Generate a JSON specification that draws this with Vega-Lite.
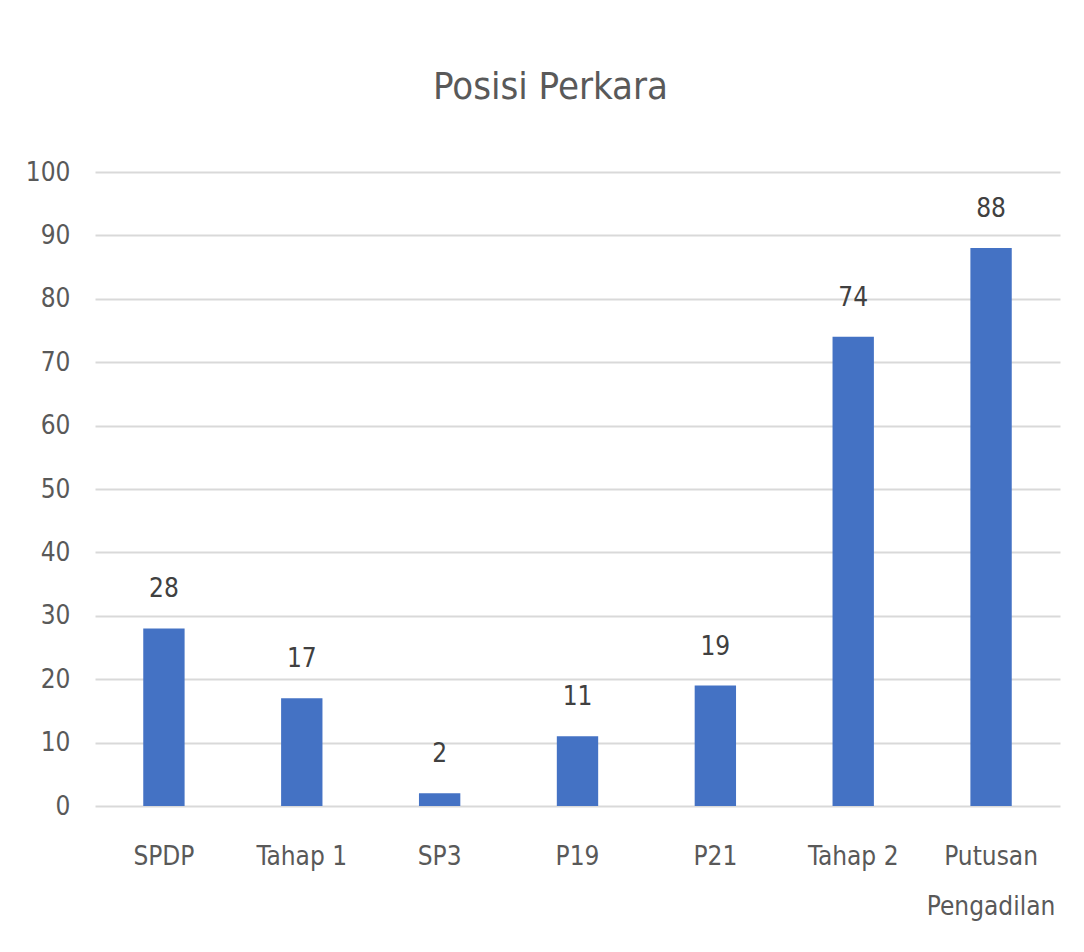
{
  "$schema": "https://vega.github.io/schema/vega-lite/v6.json",
  "autosize": "none",
  "width": 965,
  "height": 634,
  "padding": {"left": 95, "top": 172, "right": 24, "bottom": 146},
  "background": "white",
  "title": {
    "text": "Posisi Perkara",
    "anchor": "middle",
    "dx": -27,
    "offset": 22,
    "baseline": "alphabetic",
    "font": "DejaVu Sans Condensed",
    "fontSize": 38,
    "fontWeight": "normal",
    "color": "#595959"
  },
  "data": {
    "values": [
      {"kategori": "SPDP", "jumlah": 28},
      {"kategori": "Tahap 1", "jumlah": 17},
      {"kategori": "SP3", "jumlah": 2},
      {"kategori": "P19", "jumlah": 11},
      {"kategori": "P21", "jumlah": 19},
      {"kategori": "Tahap 2", "jumlah": 74},
      {"kategori": "Putusan Pengadilan", "jumlah": 88}
    ]
  },
  "encoding": {
    "x": {
      "field": "kategori",
      "type": "nominal",
      "sort": null,
      "scale": {"paddingInner": 0.7, "paddingOuter": 0.35},
      "axis": {
        "title": null,
        "labelAngle": 0,
        "ticks": false,
        "domain": false,
        "labelPadding": 37,
        "labelFont": "DejaVu Sans Condensed",
        "labelFontSize": 26,
        "labelColor": "#595959",
        "labelLineHeight": 50,
        "labelExpr": "datum.label == 'Putusan Pengadilan' ? ['Putusan', 'Pengadilan'] : datum.label",
        "labelLimit": 300
      }
    },
    "y": {
      "field": "jumlah",
      "type": "quantitative",
      "scale": {"domain": [0, 100], "nice": false},
      "axis": {
        "title": null,
        "values": [0, 10, 20, 30, 40, 50, 60, 70, 80, 90, 100],
        "ticks": false,
        "domain": false,
        "labelPadding": 25,
        "labelFont": "DejaVu Sans Condensed",
        "labelFontSize": 26,
        "labelColor": "#595959",
        "gridColor": "#d9d9d9",
        "gridWidth": 2
      }
    }
  },
  "layer": [
    {"mark": {"type": "bar", "color": "#4472C4"}},
    {
      "mark": {
        "type": "text",
        "baseline": "bottom",
        "dy": -26,
        "font": "DejaVu Sans Condensed",
        "fontSize": 26,
        "color": "#404040"
      },
      "encoding": {"text": {"field": "jumlah", "type": "quantitative"}}
    }
  ],
  "config": {"view": {"stroke": null}}
}
